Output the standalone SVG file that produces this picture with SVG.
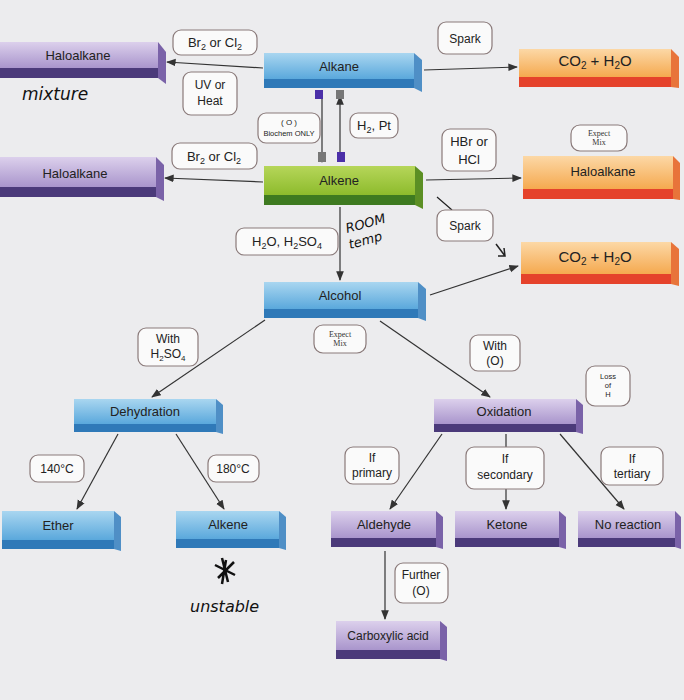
<svg xmlns="http://www.w3.org/2000/svg" width="684" height="700" viewBox="0 0 684 700" font-size="13">
<defs>
<linearGradient id="gBlue" x1="0" y1="0" x2="0" y2="1"><stop offset="0" stop-color="#a9d6f0"/><stop offset="1" stop-color="#5aa8dc"/></linearGradient>
<linearGradient id="gPur" x1="0" y1="0" x2="0" y2="1"><stop offset="0" stop-color="#dcd0ec"/><stop offset="1" stop-color="#a995cc"/></linearGradient>
<linearGradient id="gOr" x1="0" y1="0" x2="0" y2="1"><stop offset="0" stop-color="#fcd8a6"/><stop offset="1" stop-color="#f5a94f"/></linearGradient>
<linearGradient id="gGr" x1="0" y1="0" x2="0" y2="1"><stop offset="0" stop-color="#b6d65a"/><stop offset="1" stop-color="#8dbb2c"/></linearGradient>
<marker id="ah" viewBox="0 0 10 10" refX="9" refY="5" markerWidth="8" markerHeight="8" orient="auto-start-reverse"><path d="M0,1 L10,5 L0,9 z" fill="#333"/></marker>
</defs>
<style>
.t{font-family:"Liberation Sans",Arial,sans-serif;fill:#222;text-anchor:middle}
.s{font-family:"Liberation Serif",serif;font-size:8px;fill:#333;text-anchor:middle}
.lb{fill:#fafafa;stroke:#8a7a7a;stroke-width:1.2}
.c{stroke:#333;stroke-width:1.2;fill:none;marker-end:url(#ah)}
.hw{font-family:"DejaVu Sans",sans-serif;fill:#111;font-style:italic}
.blue .f{fill:url(#gBlue)}.blue .b{fill:#2f79b8}.blue .r{fill:#4f8fc6}
.pur .f{fill:url(#gPur)}.pur .b{fill:#4b3a7a}.pur .r{fill:#7a62a8}
.or .f{fill:url(#gOr)}.or .b{fill:#e5422b}.or .r{fill:#e8743a}
.gr .f{fill:url(#gGr)}.gr .b{fill:#3e7a20}.gr .r{fill:#5c8f24}
</style>
<rect width="684" height="700" fill="#ececee"/>

<g id="connectors">
<line class="c" x1="263" y1="68" x2="167" y2="62"/>
<line class="c" x1="424" y1="70" x2="517" y2="67"/>
<line class="c" x1="322" y1="98" x2="322" y2="162"/>
<line class="c" x1="340" y1="162" x2="340" y2="96"/>
<line class="c" x1="263" y1="182" x2="165" y2="178"/>
<line class="c" x1="426" y1="180" x2="521" y2="178"/>
<line class="c" x1="340" y1="207" x2="340" y2="280"/>
<line class="c" x1="430" y1="295" x2="518" y2="266"/>
<line class="c" x1="265" y1="320" x2="152" y2="397"/>
<line class="c" x1="380" y1="321" x2="490" y2="397"/>
<line class="c" x1="118" y1="434" x2="77" y2="509"/>
<line class="c" x1="176" y1="434" x2="224" y2="509"/>
<line class="c" x1="442" y1="434" x2="390" y2="509"/>
<line class="c" x1="506" y1="434" x2="506" y2="509"/>
<line class="c" x1="560" y1="434" x2="624" y2="509"/>
<line class="c" x1="385" y1="551" x2="385" y2="619"/>
<path d="M437,197 L452,210 M476,222 L488,238" stroke="#222" stroke-width="1.2" fill="none"/>
<path d="M496,244 L505,256 M498,256 L505,256 L504,248" stroke="#222" stroke-width="1.5" fill="none"/>
<rect x="315" y="90" width="8" height="9" fill="#4b2fa8"/>
<rect x="336" y="90" width="8" height="9" fill="#777"/>
<rect x="318" y="152" width="8" height="10" fill="#777"/>
<rect x="337" y="152" width="8" height="10" fill="#4b2fa8"/>
</g>

<g id="n-haloalkane1" class="pur"><rect class="f" x="0" y="42" width="158" height="26"/><rect class="b" x="0" y="68" width="158" height="10"/><path class="r" d="M158,42 L166,52 L166,84 L158,78 z"/><text class="t" x="78" y="60">Haloalkane</text></g>
<g id="n-alkane" class="blue"><rect class="f" x="264" y="53" width="150" height="26"/><rect class="b" x="264" y="79" width="150" height="9"/><path class="r" d="M414,53 L422,60 L422,92 L414,88 z"/><text class="t" x="339" y="71">Alkane</text></g>
<g id="n-co2a" class="or"><rect class="f" x="519" y="49" width="152" height="28"/><rect class="b" x="519" y="77" width="152" height="10"/><path class="r" d="M671,49 L679,57 L679,88 L671,87 z"/><text class="t" x="595" y="66" font-size="15">CO<tspan font-size="10" dy="3">2</tspan><tspan dy="-3">  +  H</tspan><tspan font-size="10" dy="3">2</tspan><tspan dy="-3">O</tspan></text></g>
<g id="n-haloalkane2" class="pur"><rect class="f" x="0" y="157" width="156" height="30"/><rect class="b" x="0" y="187" width="156" height="10"/><path class="r" d="M156,157 L164,165 L164,201 L156,197 z"/><text class="t" x="75" y="178">Haloalkane</text></g>
<g id="n-alkene" class="gr"><rect class="f" x="264" y="166" width="151" height="29"/><rect class="b" x="264" y="195" width="151" height="10"/><path class="r" d="M415,166 L423,173 L423,209 L415,205 z"/><text class="t" x="339" y="185">Alkene</text></g>
<g id="n-haloalkane3" class="or"><rect class="f" x="523" y="156" width="150" height="33"/><rect class="b" x="523" y="189" width="150" height="10"/><path class="r" d="M673,156 L680,163 L680,200 L673,199 z"/><text class="t" x="603" y="176">Haloalkane</text></g>
<g id="n-co2b" class="or"><rect class="f" x="521" y="242" width="150" height="32"/><rect class="b" x="521" y="274" width="150" height="10"/><path class="r" d="M671,242 L679,249 L679,286 L671,284 z"/><text class="t" x="595" y="262" font-size="15">CO<tspan font-size="10" dy="3">2</tspan><tspan dy="-3">  +  H</tspan><tspan font-size="10" dy="3">2</tspan><tspan dy="-3">O</tspan></text></g>
<g id="n-alcohol" class="blue"><rect class="f" x="264" y="282" width="154" height="27"/><rect class="b" x="264" y="309" width="154" height="9"/><path class="r" d="M418,282 L426,289 L426,321 L418,318 z"/><text class="t" x="340" y="300">Alcohol</text></g>
<g id="n-dehydration" class="blue"><rect class="f" x="74" y="399" width="142" height="25"/><rect class="b" x="74" y="424" width="142" height="8"/><path class="r" d="M216,399 L223,405 L223,434 L216,432 z"/><text class="t" x="145" y="416">Dehydration</text></g>
<g id="n-oxidation" class="pur"><rect class="f" x="434" y="399" width="142" height="25"/><rect class="b" x="434" y="424" width="142" height="8"/><path class="r" d="M576,399 L583,405 L583,434 L576,432 z"/><text class="t" x="504" y="416">Oxidation</text></g>
<g id="n-ether" class="blue"><rect class="f" x="2" y="511" width="112" height="29"/><rect class="b" x="2" y="540" width="112" height="9"/><path class="r" d="M114,511 L121,517 L121,551 L114,549 z"/><text class="t" x="58" y="530">Ether</text></g>
<g id="n-alkene2" class="blue"><rect class="f" x="176" y="511" width="103" height="28"/><rect class="b" x="176" y="539" width="103" height="9"/><path class="r" d="M279,511 L286,517 L286,550 L279,548 z"/><text class="t" x="228" y="529">Alkene</text></g>
<g id="n-aldehyde" class="pur"><rect class="f" x="331" y="511" width="105" height="27"/><rect class="b" x="331" y="538" width="105" height="9"/><path class="r" d="M436,511 L443,517 L443,549 L436,547 z"/><text class="t" x="384" y="529">Aldehyde</text></g>
<g id="n-ketone" class="pur"><rect class="f" x="455" y="511" width="104" height="27"/><rect class="b" x="455" y="538" width="104" height="9"/><path class="r" d="M559,511 L566,517 L566,549 L559,547 z"/><text class="t" x="507" y="529">Ketone</text></g>
<g id="n-noreaction" class="pur"><rect class="f" x="578" y="511" width="97" height="27"/><rect class="b" x="578" y="538" width="97" height="9"/><path class="r" d="M675,511 L681,517 L681,549 L675,547 z"/><text class="t" x="628" y="529">No reaction</text></g>
<g id="n-carboxylic" class="pur"><rect class="f" x="336" y="621" width="104" height="29"/><rect class="b" x="336" y="650" width="104" height="9"/><path class="r" d="M440,621 L447,627 L447,661 L440,659 z"/><text class="t" x="388" y="640" font-size="12">Carboxylic acid</text></g>

<g id="labels">
<rect class="lb" x="173" y="30" width="84" height="25" rx="8"/><text class="t" x="215" y="47">Br<tspan font-size="9" dy="3">2</tspan><tspan dy="-3"> or Cl</tspan><tspan font-size="9" dy="3">2</tspan></text>
<rect class="lb" x="183" y="72" width="54" height="43" rx="8"/><text class="t" x="210" y="89" font-size="12">UV or</text><text class="t" x="210" y="105" font-size="12">Heat</text>
<rect class="lb" x="438" y="22" width="54" height="32" rx="8"/><text class="t" x="465" y="43" font-size="12">Spark</text>
<rect class="lb" x="258" y="113" width="62" height="30" rx="8"/><text class="t" x="289" y="125" font-size="8">( O )</text><text class="t" x="289" y="136" font-size="7.5">Biochem ONLY</text>
<rect class="lb" x="350" y="113" width="48" height="25" rx="8"/><text class="t" x="374" y="130">H<tspan font-size="9" dy="3">2</tspan><tspan dy="-3">, Pt</tspan></text>
<rect class="lb" x="172" y="143" width="85" height="26" rx="8"/><text class="t" x="214" y="161">Br<tspan font-size="9" dy="3">2</tspan><tspan dy="-3"> or Cl</tspan><tspan font-size="9" dy="3">2</tspan></text>
<rect class="lb" x="442" y="129" width="54" height="42" rx="8"/><text class="t" x="469" y="146">HBr or</text><text class="t" x="469" y="164">HCl</text>
<rect class="lb" x="571" y="125" width="56" height="26" rx="9"/><text class="s" x="599" y="136">Expect</text><text class="s" x="599" y="145">Mix</text>
<rect class="lb" x="236" y="228" width="102" height="27" rx="8"/><text class="t" x="287" y="246">H<tspan font-size="9" dy="3">2</tspan><tspan dy="-3">O, H</tspan><tspan font-size="9" dy="3">2</tspan><tspan dy="-3">SO</tspan><tspan font-size="9" dy="3">4</tspan></text>
<rect class="lb" x="437" y="210" width="56" height="31" rx="8"/><text class="t" x="465" y="230" font-size="12">Spark</text>
<rect class="lb" x="314" y="325" width="52" height="28" rx="9"/><text class="s" x="340" y="337">Expect</text><text class="s" x="340" y="346">Mix</text>
<rect class="lb" x="138" y="328" width="60" height="38" rx="8"/><text class="t" x="168" y="343" font-size="12">With</text><text class="t" x="168" y="358" font-size="12">H<tspan font-size="8" dy="3">2</tspan><tspan dy="-3">SO</tspan><tspan font-size="8" dy="3">4</tspan></text>
<rect class="lb" x="470" y="335" width="50" height="36" rx="8"/><text class="t" x="495" y="350" font-size="12">With</text><text class="t" x="495" y="365" font-size="12">(O)</text>
<rect class="lb" x="586" y="366" width="44" height="40" rx="9"/><text class="t" x="608" y="379" font-size="7.5">Loss</text><text class="t" x="608" y="388" font-size="7.5">of</text><text class="t" x="608" y="397" font-size="7.5">H</text>
<rect class="lb" x="30" y="455" width="54" height="27" rx="8"/><text class="t" x="57" y="473" font-size="12">140°C</text>
<rect class="lb" x="208" y="455" width="51" height="27" rx="8"/><text class="t" x="233" y="473" font-size="12">180°C</text>
<rect class="lb" x="345" y="447" width="54" height="37" rx="8"/><text class="t" x="372" y="462" font-size="12">If</text><text class="t" x="372" y="477" font-size="12">primary</text>
<rect class="lb" x="466" y="447" width="78" height="42" rx="8"/><text class="t" x="505" y="463" font-size="12">If</text><text class="t" x="505" y="479" font-size="12">secondary</text>
<rect class="lb" x="601" y="447" width="62" height="38" rx="8"/><text class="t" x="632" y="463" font-size="12">If</text><text class="t" x="632" y="478" font-size="12">tertiary</text>
<rect class="lb" x="395" y="563" width="53" height="40" rx="8"/><text class="t" x="421" y="579" font-size="12">Further</text><text class="t" x="421" y="595" font-size="12">(O)</text>
</g>

<g id="handwriting">
<text class="hw" x="22" y="100" font-size="17">mixture</text>
<text class="hw" x="347" y="233" font-size="13" transform="rotate(-15 347 233)">ROOM</text>
<text class="hw" x="350" y="249" font-size="13" transform="rotate(-15 350 249)">temp</text>
<path d="M222,558 L228,582 M215,565 L235,575 M218,578 L234,562 M226,560 L222,584" stroke="#111" stroke-width="2.5" fill="none"/>
<text class="hw" x="190" y="612" font-size="16">unstable</text>
</g>
</svg>
